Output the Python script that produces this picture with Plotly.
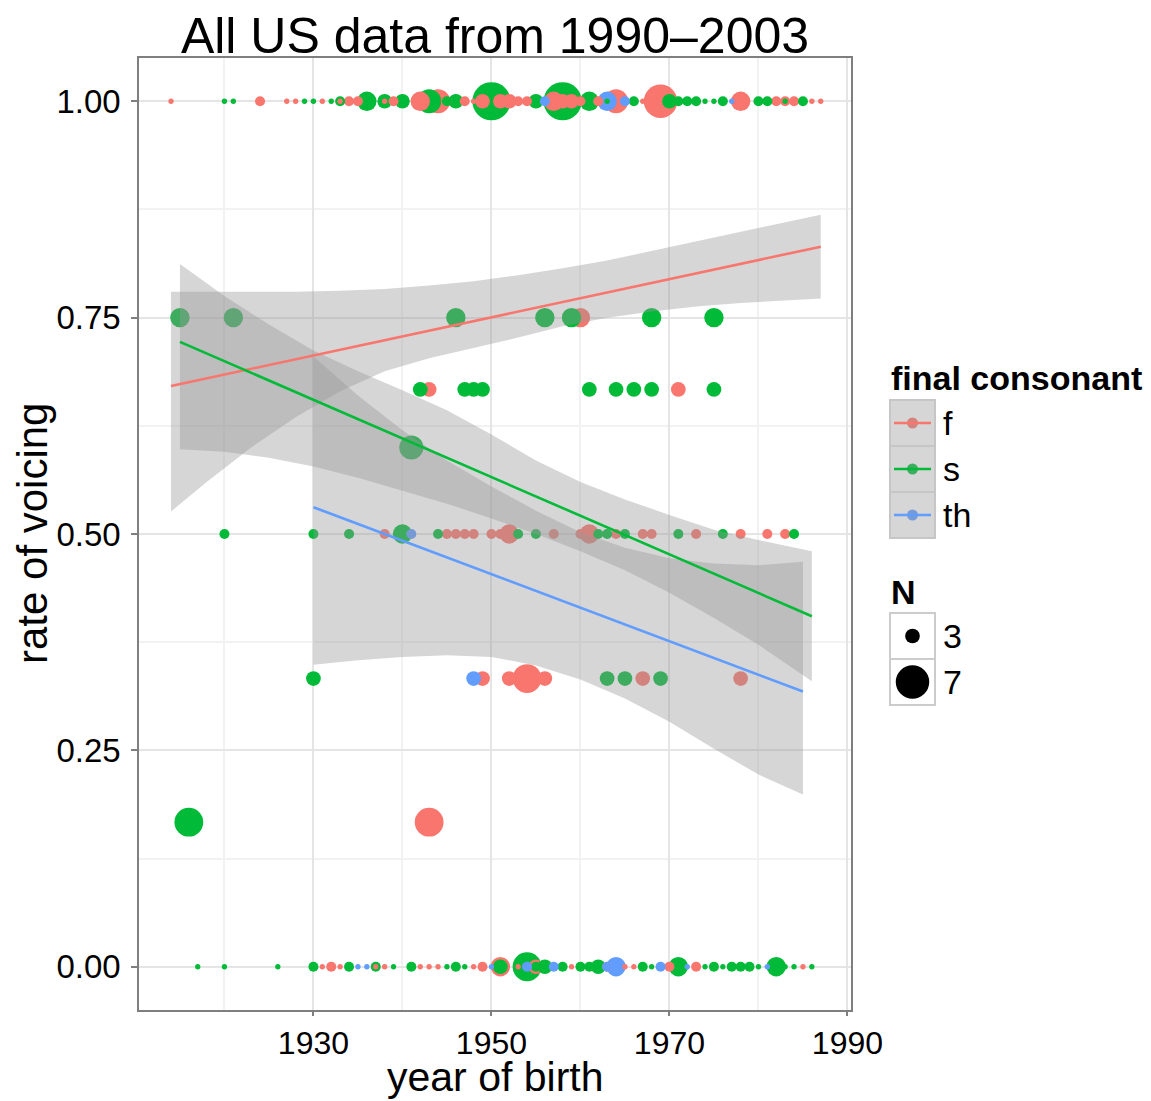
import plotly.graph_objects as go

# ---------------- data ----------------
# points: (year, rate, N) per final consonant
f_year = [1914, 1924, 1927, 1928, 1931, 1933, 1934, 1935, 1938, 1939, 1942, 1944, 1945, 1947, 1948, 1949,
          1951, 1952, 1953, 1954, 1957, 1958, 1959, 1960, 1962, 1964, 1967, 1968, 1969, 1978, 1982, 1983,
          1984, 1986, 1987,
          1931, 1932, 1933, 1937, 1938, 1942, 1943, 1944, 1948, 1949, 1951, 1953, 1955, 1959, 1963, 1965,
          1966, 1970, 1973, 1985,
          1960, 1943, 1971,
          1938, 1945, 1946, 1947, 1948, 1950, 1951, 1952, 1957, 1960, 1961, 1964, 1967, 1968, 1973, 1978,
          1981, 1983,
          1949, 1952, 1954, 1956, 1967, 1978,
          1943]
f_rate = [1.0] * 35 + [0.0] * 20 + [0.75, 0.667, 0.667] + [0.5] * 18 + [0.333] * 6 + [0.167]
f_n = [1, 2, 1, 1, 1, 1, 2, 2, 1, 2, 4, 5, 2, 2, 1, 3,
       3, 3, 2, 2, 4, 3, 3, 2, 2, 5, 1, 3, 7, 4, 2, 2,
       2, 1, 1,
       1, 2, 1, 1, 1, 1, 1, 1, 1, 2, 4, 1, 3, 1, 2, 1,
       1, 2, 2, 1,
       4, 3, 3,
       2, 2, 2, 2, 2, 2, 2, 4, 2, 2, 4, 2, 2, 2, 2, 2,
       2, 2,
       3, 3, 6, 3, 3, 3,
       6]

s_year = [1920, 1921, 1929, 1930, 1932, 1933, 1936, 1938, 1940, 1943, 1945, 1946, 1950, 1955, 1958, 1961,
          1963, 1966, 1970, 1971, 1972, 1973, 1974, 1975, 1976, 1980, 1981, 1983, 1985,
          1917, 1920, 1926, 1930, 1934, 1937, 1939, 1941, 1945, 1946, 1947, 1951, 1954, 1955, 1956, 1958,
          1960, 1961, 1962, 1967, 1968, 1971, 1974, 1975, 1976, 1977, 1978, 1979, 1980, 1982, 1983, 1984,
          1986,
          1915, 1921, 1946, 1956, 1959, 1968, 1975,
          1942, 1947, 1948, 1949, 1961, 1964, 1966, 1968, 1975,
          1941,
          1920, 1930, 1934, 1940, 1944, 1953, 1955, 1962, 1963, 1965, 1971, 1976, 1984,
          1930, 1963, 1965, 1969,
          1916]
s_rate = [1.0] * 29 + [0.0] * 33 + [0.75] * 7 + [0.667] * 9 + [0.6] + [0.5] * 13 + [0.333] * 4 + [0.167]
s_n = [1, 1, 1, 1, 1, 2, 4, 3, 3, 5, 2, 3, 8, 3, 8, 4,
       1, 2, 3, 2, 2, 2, 1, 1, 2, 2, 2, 1, 2,
       1, 1, 1, 2, 2, 2, 1, 2, 1, 2, 1, 3, 6, 2, 3, 2,
       2, 2, 3, 2, 1, 4, 1, 2, 1, 2, 2, 2, 1, 4, 1, 1,
       1,
       4, 4, 4, 4, 4, 4, 4,
       3, 3, 3, 3, 3, 3, 3, 3, 3,
       5,
       2, 2, 2, 4, 2, 2, 2, 2, 2, 2, 2, 2, 2,
       3, 3, 3, 3,
       6]

th_year = [1956, 1963, 1965, 1977,
           1935, 1936, 1950, 1954, 1957, 1963, 1964, 1969, 1972, 1981,
           1941, 1948]
th_rate = [1.0] * 4 + [0.0] * 10 + [0.5, 0.333]
th_n = [2, 4, 2, 1,
        1, 1, 1, 2, 2, 2, 4, 2, 1, 1,
        2, 3]

# linear fits (lm)
f_fit_year = [1914, 1987]
f_fit = [0.671, 0.832]
s_fit_year = [1915, 1986]
s_fit = [0.722, 0.405]
th_fit_year = [1930, 1985]
th_fit = [0.531, 0.318]

# confidence bands
f_band_year = [1914, 1918, 1923, 1928, 1933, 1938, 1943, 1948, 1953, 1958, 1963, 1968, 1973, 1978, 1983, 1987]
f_band_hi = [0.780, 0.780, 0.780, 0.780, 0.781, 0.783, 0.787, 0.792, 0.799, 0.807, 0.816, 0.827, 0.838,
             0.849, 0.860, 0.869]
f_band_lo = [0.526, 0.560, 0.600, 0.635, 0.665, 0.688, 0.703, 0.715, 0.727, 0.740, 0.750, 0.757, 0.763,
             0.767, 0.770, 0.772]

s_band_year = [1915, 1920, 1925, 1930, 1935, 1940, 1945, 1950, 1955, 1960, 1965, 1970, 1975, 1980, 1986]
s_band_hi = [0.812, 0.775, 0.742, 0.712, 0.688, 0.666, 0.643, 0.615, 0.585, 0.560, 0.540, 0.522, 0.505,
             0.493, 0.480]
s_band_lo = [0.598, 0.595, 0.588, 0.578, 0.565, 0.550, 0.535, 0.518, 0.500, 0.480, 0.458, 0.432, 0.403,
             0.372, 0.330]

th_band_year = [1930, 1935, 1940, 1945, 1950, 1955, 1960, 1965, 1970, 1975, 1980, 1985]
th_band_hi = [0.705, 0.660, 0.620, 0.585, 0.555, 0.527, 0.502, 0.484, 0.472, 0.466, 0.464, 0.468]
th_band_lo = [0.349, 0.354, 0.358, 0.360, 0.358, 0.348, 0.332, 0.310, 0.283, 0.252, 0.222, 0.199]

groups = ["f", "s", "th"]
colors = {"f": "#F8766D", "s": "#00BA38", "th": "#619CFF"}
legend_n = [3, 7]

x_ticks = [1930, 1950, 1970, 1990]
x_minor = [1920, 1940, 1960, 1980]
y_ticks = [0, 0.25, 0.5, 0.75, 1.0]
y_minor = [0.125, 0.375, 0.625, 0.875]

# ---------------- figure ----------------
FONT = "Liberation Sans, Arial, Helvetica, sans-serif"
W, H = 1151, 1101
L, R, T, B = 139, 851, 58, 1010


def dsize(n):
    return 5.3 + 4.7 * (n - 1)


pts = []
for g, xs, ys, ns in (("f", f_year, f_rate, f_n), ("s", s_year, s_rate, s_n), ("th", th_year, th_rate, th_n)):
    for x, y, n in zip(xs, ys, ns):
        pts.append((x, y, n, colors[g]))
pts.sort(key=lambda p: -p[2])

fig = go.Figure()
fig.add_trace(go.Scatter(
    x=[p[0] for p in pts], y=[p[1] for p in pts], mode="markers",
    marker=dict(color=[p[3] for p in pts], size=[dsize(p[2]) for p in pts],
                line=dict(width=0), opacity=1),
    hoverinfo="skip", showlegend=False))

for by, hi, lo in ((f_band_year, f_band_hi, f_band_lo), (s_band_year, s_band_hi, s_band_lo),
                   (th_band_year, th_band_hi, th_band_lo)):
    fig.add_trace(go.Scatter(
        x=by + by[::-1], y=hi + lo[::-1], mode="lines", fill="toself",
        fillcolor="rgba(153,153,153,0.4)", line=dict(width=0),
        hoverinfo="skip", showlegend=False))

for g, fx, fy in (("f", f_fit_year, f_fit), ("s", s_fit_year, s_fit), ("th", th_fit_year, th_fit)):
    fig.add_trace(go.Scatter(x=fx, y=fy, mode="lines", line=dict(color=colors[g], width=2.6),
                             hoverinfo="skip", showlegend=False))


def px2x(px):
    return (px - L) / (R - L)


def py2y(py):
    return (B - py) / (B - T)


shapes = []
annotations = []
LFS = 34

# axis titles
annotations.append(dict(text="year of birth", x=px2x((L + R) / 2), y=py2y(1077), xref="paper", yref="paper",
                        xanchor="center", yanchor="middle", showarrow=False,
                        font=dict(family=FONT, size=41, color="black")))
annotations.append(dict(text="rate of voicing", x=px2x(32), y=py2y((T + B) / 2), xref="paper", yref="paper",
                        xanchor="center", yanchor="middle", showarrow=False, textangle=-90,
                        font=dict(family=FONT, size=42, color="black")))

# legend: final consonant
annotations.append(dict(text="<b>final consonant</b>", x=px2x(889), y=py2y(378), xref="paper", yref="paper",
                        xanchor="left", yanchor="middle", showarrow=False,
                        font=dict(family=FONT, size=LFS, color="black")))
key_top = 400
key_h = 46
muted = {"f": "#D2847F", "s": "#3DAD5F", "th": "#779BD6"}
for i, g in enumerate(groups):
    y0 = key_top + i * key_h
    shapes.append(dict(type="rect", xref="paper", yref="paper", x0=px2x(890), x1=px2x(935),
                       y0=py2y(y0 + key_h), y1=py2y(y0), fillcolor="#D6D6D6",
                       line=dict(color="#C6C6C6", width=2), layer="above"))
    cy = y0 + key_h / 2
    shapes.append(dict(type="circle", xref="paper", yref="paper", xsizemode="pixel", ysizemode="pixel",
                       xanchor=px2x(912.5), yanchor=py2y(cy), x0=-5.5, x1=5.5, y0=-5.5, y1=5.5,
                       fillcolor=muted[g], line=dict(width=0), layer="above"))
    shapes.append(dict(type="line", xref="paper", yref="paper", x0=px2x(894), x1=px2x(931),
                       y0=py2y(cy), y1=py2y(cy), line=dict(color=colors[g], width=2.6), layer="above"))
    annotations.append(dict(text=g, x=px2x(941), y=py2y(cy), xref="paper", yref="paper",
                            xanchor="left", yanchor="middle", showarrow=False,
                            font=dict(family=FONT, size=LFS, color="black")))

# legend: N
annotations.append(dict(text="<b>N</b>", x=px2x(889), y=py2y(592), xref="paper", yref="paper",
                        xanchor="left", yanchor="middle", showarrow=False,
                        font=dict(family=FONT, size=LFS, color="black")))
nkey_top = 613
for i, n in enumerate(legend_n):
    y0 = nkey_top + i * key_h
    shapes.append(dict(type="rect", xref="paper", yref="paper", x0=px2x(890), x1=px2x(935),
                       y0=py2y(y0 + key_h), y1=py2y(y0), fillcolor="white",
                       line=dict(color="#CCCCCC", width=2), layer="above"))
    cy = y0 + key_h / 2
    r = dsize(n) / 2
    shapes.append(dict(type="circle", xref="paper", yref="paper", xsizemode="pixel", ysizemode="pixel",
                       xanchor=px2x(912.5), yanchor=py2y(cy), x0=-r, x1=r, y0=-r, y1=r,
                       fillcolor="black", line=dict(width=0), layer="above"))
    annotations.append(dict(text=str(n), x=px2x(941), y=py2y(cy), xref="paper", yref="paper",
                            xanchor="left", yanchor="middle", showarrow=False,
                            font=dict(family=FONT, size=LFS, color="black")))

fig.update_layout(
    width=W, height=H, autosize=False,
    margin=dict(l=L, r=W - R, t=T, b=H - B, pad=0, autoexpand=False),
    plot_bgcolor="white", paper_bgcolor="white",
    font=dict(family=FONT, color="black"),
    title=dict(text="All US data from 1990\u20132003", x=(L + R) / 2 / W, xanchor="center",
               y=1 - 35 / H, yanchor="middle", font=dict(size=50, family=FONT, color="black")),
    showlegend=False,
    shapes=shapes, annotations=annotations,
    xaxis=dict(range=[1910.4, 1990.4], tickvals=x_ticks, ticktext=[str(v) for v in x_ticks],
               showgrid=True, gridcolor="#E5E5E5", gridwidth=1.5,
               minor=dict(tickvals=x_minor, showgrid=True, gridcolor="#F2F2F2", gridwidth=1.5, ticks=""),
               zeroline=False, showline=True, linecolor="#7F7F7F", linewidth=1.5, mirror=True,
               ticks="outside", ticklen=4, tickwidth=1.5, tickcolor="#7F7F7F",
               tickfont=dict(size=32, family=FONT, color="black")),
    yaxis=dict(range=[-0.05, 1.05], tickvals=y_ticks, ticktext=["%.2f" % v for v in y_ticks],
               showgrid=True, gridcolor="#E5E5E5", gridwidth=1.5,
               minor=dict(tickvals=y_minor, showgrid=True, gridcolor="#F2F2F2", gridwidth=1.5, ticks=""),
               zeroline=False, showline=True, linecolor="#7F7F7F", linewidth=1.5, mirror=True,
               ticks="outside", ticklen=6, tickwidth=1.5, tickcolor="#7F7F7F",
               ticklabelstandoff=4,
               tickfont=dict(size=33, family=FONT, color="black")),
)

fig.write_html("out.html", config={"responsive": False, "displayModeBar": False},
               post_script="document.body.style.margin='0';document.body.style.overflow='hidden';")
